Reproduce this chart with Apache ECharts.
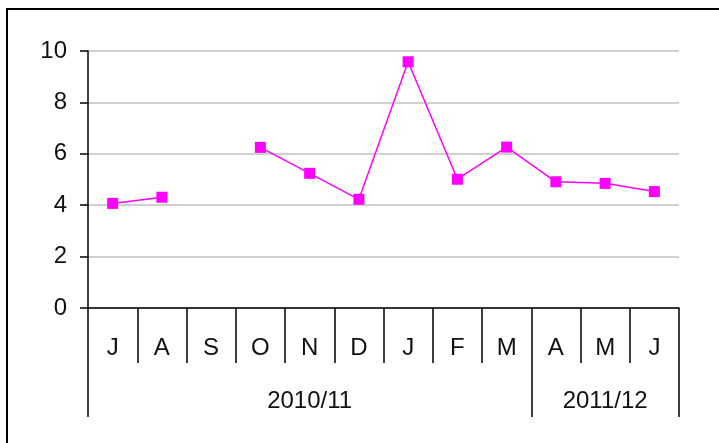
<!DOCTYPE html>
<html>
<head>
<meta charset="utf-8">
<title>Monthly values 2010/11 – 2011/12</title>
<script src="https://cdn.jsdelivr.net/npm/echarts@6/dist/echarts.min.js"></script>
<style>
  html, body { margin: 0; padding: 0; background: #fff; }
  #chart { width: 719px; height: 443px; }
</style>
</head>
<body>
<div id="chart"></div>
<script>
// Month initials, July to June
const months = ['J', 'A', 'S', 'O', 'N', 'D', 'J', 'F', 'M', 'A', 'M', 'J'];
// Financial-year groups and how many months each spans
const groupNames = ['2010/11', '2011/12'];
const groupSpans = [9, 3];
// Monthly values (September has no value)
const values = [4.07, 4.31, null, 6.25, 5.24, 4.23, 9.58, 5.01, 6.26, 4.91, 4.85, 4.53];
// Value axis ticks
const yTicks = [0, 2, 4, 6, 8, 10];

// Second-level axis: one label in the middle month of each group,
// and a boundary tick where each group starts.
const groupStarts = [];
const groupCentres = {};
let start = 0;
groupSpans.forEach((span, g) => {
  groupStarts.push(start);
  groupCentres[start + Math.floor(span / 2)] = groupNames[g];
  start += span;
});

const FONT = 'Liberation Sans, Arial, sans-serif';
const chart = echarts.init(document.getElementById('chart'), null, { renderer: 'canvas' });

chart.setOption({
  animation: false,
  backgroundColor: '#fff',
  graphic: [{
    type: 'rect',
    shape: { x: 7, y: 9, width: 800, height: 600 },
    style: { fill: 'none', stroke: '#000', lineWidth: 2 },
    silent: true
  }],
  grid: { left: 88, right: 40, top: 51, bottom: 135, containLabel: false },
  xAxis: [
    {
      type: 'category',
      data: months,
      boundaryGap: true,
      axisLine: { show: true, lineStyle: { color: '#000', width: 1.5 } },
      axisTick: { show: true, interval: 0, length: 55, lineStyle: { color: '#000', width: 1.5 } },
      axisLabel: {
        interval: 0, margin: 28, color: '#111',
        fontFamily: FONT, fontSize: 24, lineHeight: 24
      }
    },
    {
      type: 'category',
      data: months,
      boundaryGap: true,
      position: 'bottom',
      axisLine: { show: false },
      axisTick: {
        show: true, length: 109,
        interval: (i) => groupStarts.indexOf(i) !== -1,
        lineStyle: { color: '#000', width: 1.5 }
      },
      axisLabel: {
        interval: (i) => groupCentres[i] !== undefined,
        formatter: (v, i) => groupCentres[i] || '',
        margin: 81, color: '#111',
        fontFamily: FONT, fontSize: 24, lineHeight: 24
      }
    }
  ],
  yAxis: {
    type: 'value',
    min: yTicks[0],
    max: yTicks[yTicks.length - 1],
    interval: yTicks[1] - yTicks[0],
    axisLine: { show: true, lineStyle: { color: '#000', width: 1.5 } },
    axisTick: { show: true, length: 8, lineStyle: { color: '#000', width: 1.5 } },
    axisLabel: { margin: 21, color: '#111', fontFamily: FONT, fontSize: 24 },
    splitLine: { show: true, lineStyle: { color: '#c0c0c0', width: 1.5 } }
  },
  series: [{
    type: 'line',
    data: values,
    connectNulls: false,
    symbol: 'rect',
    symbolSize: 11,
    lineStyle: { color: '#ff00ff', width: 1.5 },
    itemStyle: { color: '#ff00ff' },
    z: 5
  }]
});
</script>
</body>
</html>
